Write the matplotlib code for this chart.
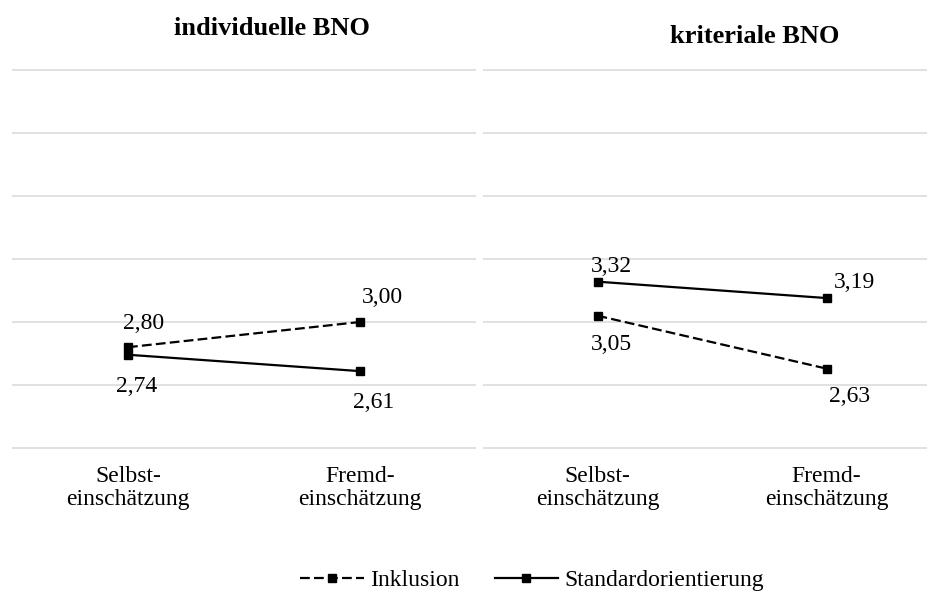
import matplotlib
matplotlib.use("Agg")
import matplotlib.pyplot as plt
from matplotlib.lines import Line2D

plt.rcParams['font.family'] = ['Liberation Serif', 'DejaVu Serif']

categories = ["Selbst-\neinschätzung", "Fremd-\neinschätzung"]
panel_titles = ["individuelle BNO", "kriteriale BNO"]

# means per panel: [Selbst, Fremd]
inklusion = [[2.80, 3.00], [3.05, 2.63]]
standard = [[2.74, 2.61], [3.32, 3.19]]

# label offsets in pixels (dx, dy) for each point
inkl_offsets = [[(16, 18), (22, 19)], [(14, -34), (23, -33)]]
std_offsets = [[(9, -37), (14, -37)], [(14, 10), (28, 10)]]

W, H = 928, 593
fig = plt.figure(figsize=(W / 100, H / 100), dpi=100)

ymin, ymax = 1.98, 5.02
y_top_px, y_bot_px = 67.5, 450.5
panels_px = [(12, 464), (483, 458)]

fs = 17
dash = (0, (4.4, 1.9))
for i, (x0, w) in enumerate(panels_px):
    ax = fig.add_axes([x0 / W, 1 - y_bot_px / H, w / W, (y_bot_px - y_top_px) / H])
    ax.set_xlim(-0.5, 1.5)
    ax.set_ylim(ymin, ymax)
    for s in ax.spines.values():
        s.set_visible(False)
    ax.set_yticks([2.0, 2.5, 3.0, 3.5, 4.0, 4.5, 5.0])
    ax.yaxis.grid(True, color="#d9d9d9", linewidth=1.1)
    ax.set_axisbelow(True)
    ax.tick_params(axis="y", left=False, labelleft=False)
    ax.set_xticks([0, 1])
    ax.set_xticklabels(categories, fontsize=fs, linespacing=1.1)
    ax.tick_params(axis="x", bottom=False, pad=8)

    x = [0, 1]
    ax.plot(x, inklusion[i], color="black", linewidth=1.6, linestyle=dash,
            marker="s", markersize=6)
    ax.plot(x, standard[i], color="black", linewidth=1.6, linestyle="-",
            marker="s", markersize=6)

    for xv, yv, off in zip(x, inklusion[i], inkl_offsets[i]):
        ax.annotate(f"{yv:.2f}".replace(".", ","), (xv, yv), xytext=off,
                    textcoords="offset pixels", ha="center", va="baseline", fontsize=fs)
    for xv, yv, off in zip(x, standard[i], std_offsets[i]):
        ax.annotate(f"{yv:.2f}".replace(".", ","), (xv, yv), xytext=off,
                    textcoords="offset pixels", ha="center", va="baseline", fontsize=fs)

fig.text(272 / W, 1 - 35 / H, panel_titles[0], ha="center", va="baseline",
         fontsize=19, fontweight="bold")
fig.text(755 / W, 1 - 43 / H, panel_titles[1], ha="center", va="baseline",
         fontsize=19, fontweight="bold")

handles = [
    Line2D([], [], color="black", linewidth=1.6, linestyle=dash, marker="s", markersize=6),
    Line2D([], [], color="black", linewidth=1.6, linestyle="-", marker="s", markersize=6),
]
fig.legend(handles, ["Inklusion", "Standardorientierung"], loc="center",
           bbox_to_anchor=(532 / W, 1 - 580 / H), ncol=2, frameon=False,
           fontsize=fs, handlelength=2.7, handletextpad=0.25, columnspacing=1.5)

fig.savefig("out.png", dpi=100)
